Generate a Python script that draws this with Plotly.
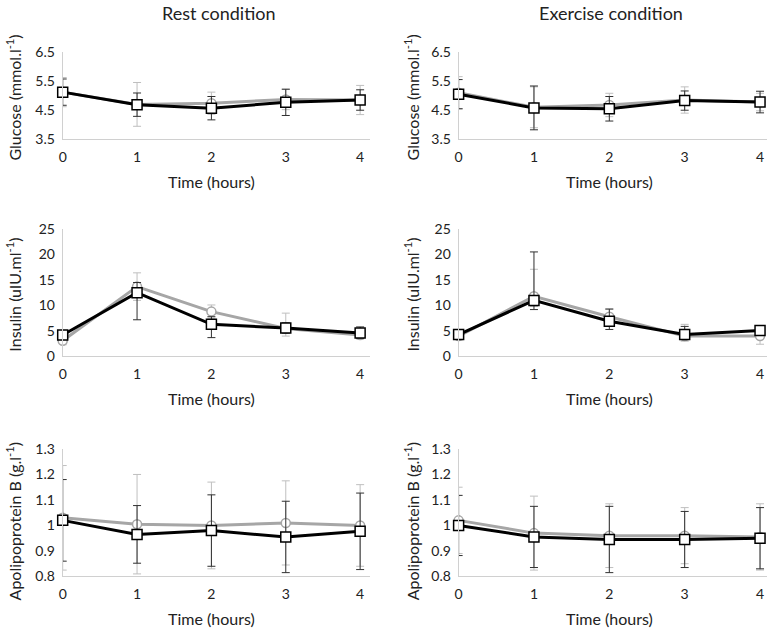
import plotly.graph_objects as go

time_h = [0, 1, 2, 3, 4]

# Rest condition
rest_glu_gray = [5.12, 4.70, 4.74, 4.87, 4.85]
rest_glu_gray_err = [0.50, 0.75, 0.38, 0.35, 0.50]
rest_glu_black = [5.12, 4.69, 4.57, 4.77, 4.85]
rest_glu_black_err = [0.45, 0.40, 0.40, 0.45, 0.35]

rest_ins_gray = [3.1, 13.7, 8.8, 5.5, 4.2]
rest_ins_gray_up = [0.8, 2.7, 1.3, 3.0, 0.8]
rest_ins_gray_dn = [0.8, 2.7, 1.3, 1.5, 0.8]
rest_ins_black = [4.2, 12.5, 6.3, 5.6, 4.6]
rest_ins_black_up = [0.8, 2.0, 1.5, 1.0, 1.2]
rest_ins_black_dn = [0.8, 5.3, 2.6, 1.0, 1.0]

rest_apo_gray = [1.03, 1.005, 1.0, 1.01, 1.0]
rest_apo_gray_err = [0.205, 0.195, 0.17, 0.165, 0.16]
rest_apo_black = [1.02, 0.965, 0.98, 0.955, 0.977]
rest_apo_black_err = [0.16, 0.113, 0.14, 0.14, 0.15]

# Exercise condition
ex_glu_gray = [5.10, 4.60, 4.68, 4.85, 4.78]
ex_glu_gray_err = [0.55, 0.70, 0.40, 0.45, 0.30]
ex_glu_black = [5.05, 4.58, 4.55, 4.83, 4.78]
ex_glu_black_err = [0.50, 0.75, 0.42, 0.33, 0.37]

ex_ins_gray = [4.0, 11.8, 7.8, 4.0, 4.0]
ex_ins_gray_up = [0.8, 5.3, 1.5, 2.3, 0.8]
ex_ins_gray_dn = [0.8, 2.0, 1.5, 1.0, 1.6]
ex_ins_black = [4.3, 11.0, 6.9, 4.3, 5.1]
ex_ins_black_up = [0.8, 9.5, 2.4, 1.6, 0.5]
ex_ins_black_dn = [0.8, 1.8, 1.6, 1.0, 0.5]

ex_apo_gray = [1.02, 0.97, 0.96, 0.96, 0.955]
ex_apo_gray_err = [0.13, 0.145, 0.125, 0.11, 0.13]
ex_apo_black = [1.0, 0.955, 0.945, 0.945, 0.95]
ex_apo_black_err = [0.118, 0.12, 0.13, 0.11, 0.12]

titles = ["Rest condition", "Exercise condition"]
y_titles = ["Glucose (mmol.l<sup>-1</sup>)", "Insulin (uIU.ml<sup>-1</sup>)",
            "Apolipoprotein B (g.l<sup>-1</sup>)"]
y_ranges = [[3.5, 6.5], [0, 25], [0.8, 1.3]]
y_ticks = [[3.5, 4.5, 5.5, 6.5], [0, 5, 10, 15, 20, 25], [0.8, 0.9, 1.0, 1.1, 1.2, 1.3]]
y_ticktext = [["3.5", "4.5", "5.5", "6.5"], ["0", "5", "10", "15", "20", "25"],
              ["0.8", "0.9", "1", "1.1", "1.2", "1.3"]]

W, H = 767, 638
FONT = "Lato, 'Open Sans', sans-serif"
GRAY = "#a6a6a6"
GRAY_ERR = "#bfbfbf"
BLACK = "#000000"

panels = [
    (0, 0, rest_glu_gray, rest_glu_gray_err, rest_glu_gray_err, rest_glu_black, rest_glu_black_err, rest_glu_black_err),
    (1, 0, ex_glu_gray, ex_glu_gray_err, ex_glu_gray_err, ex_glu_black, ex_glu_black_err, ex_glu_black_err),
    (0, 1, rest_ins_gray, rest_ins_gray_up, rest_ins_gray_dn, rest_ins_black, rest_ins_black_up, rest_ins_black_dn),
    (1, 1, ex_ins_gray, ex_ins_gray_up, ex_ins_gray_dn, ex_ins_black, ex_ins_black_up, ex_ins_black_dn),
    (0, 2, rest_apo_gray, rest_apo_gray_err, rest_apo_gray_err, rest_apo_black, rest_apo_black_err, rest_apo_black_err),
    (1, 2, ex_apo_gray, ex_apo_gray_err, ex_apo_gray_err, ex_apo_black, ex_apo_black_err, ex_apo_black_err),
]

col_px = [(59, 358, 368), (457, 760, 767)]
row_px = [(44, 134), (226, 357), (452, 583)]

fig = go.Figure()
layout = dict(
    width=W, height=H, margin=dict(l=0, r=0, t=0, b=0),
    paper_bgcolor="white", plot_bgcolor="white", showlegend=False,
    font=dict(family=FONT, color="#222222"),
)
annotations = []

for i, (c, r, g, gu, gd, b, bu, bd) in enumerate(panels):
    idx = i + 1
    xa = "x" if idx == 1 else f"x{idx}"
    ya = "y" if idx == 1 else f"y{idx}"
    x0, x4, xend = col_px[c]
    top, bot = row_px[r]
    xmax = 4 * (xend - x0) / (x4 - x0)
    layout["xaxis" if idx == 1 else f"xaxis{idx}"] = dict(
        domain=[x0 / W, xend / W], range=[0, xmax], anchor=ya,
        tickvals=time_h, showgrid=False, zeroline=False,
        showline=True, linecolor="#d0d0d0", linewidth=1,
        ticks="outside", ticklen=5, tickcolor="rgba(0,0,0,0)",
        tickfont=dict(size=14, family=FONT, color="#222222"),
    )
    layout["yaxis" if idx == 1 else f"yaxis{idx}"] = dict(
        domain=[1 - bot / H, 1 - top / H], range=y_ranges[r], anchor=xa,
        tickvals=y_ticks[r], ticktext=y_ticktext[r], showgrid=False, zeroline=False,
        showline=True, linecolor="#d0d0d0", linewidth=1,
        ticks="outside", ticklen=4, tickcolor="rgba(0,0,0,0)",
        tickfont=dict(size=14, family=FONT, color="#222222"),
    )
    fig.add_trace(go.Scatter(
        x=time_h, y=g, xaxis=xa, yaxis=ya, mode="lines+markers",
        line=dict(color=GRAY, width=3),
        marker=dict(symbol="circle", size=9, color="white", line=dict(color=GRAY, width=1.5)),
        error_y=dict(type="data", array=gu, arrayminus=gd, symmetric=False,
                     color=GRAY_ERR, thickness=1, width=4),
        cliponaxis=False,
    ))
    fig.add_trace(go.Scatter(
        x=time_h, y=b, xaxis=xa, yaxis=ya, mode="lines+markers",
        line=dict(color=BLACK, width=3),
        marker=dict(symbol="square", size=10, color="white", line=dict(color=BLACK, width=1.5)),
        error_y=dict(type="data", array=bu, arrayminus=bd, symmetric=False,
                     color="#303030", thickness=1, width=4),
        cliponaxis=False,
    ))
    annotations.append(dict(
        text="Time (hours)", xref="paper", yref="paper",
        x=((x0 + x4) / 2) / W, y=1 - (bot + 43) / H, xanchor="center", yanchor="middle",
        showarrow=False, font=dict(size=16, family=FONT, color="#222222"),
    ))
    ytitle_x = 10 if c == 0 else 410
    ycenter = (top + bot) / 2 + (9 if r == 2 else 2)
    annotations.append(dict(
        text=y_titles[r], xref="paper", yref="paper", textangle=-90,
        x=ytitle_x / W, y=1 - ycenter / H, xanchor="center", yanchor="middle",
        showarrow=False, font=dict(size=16, family=FONT, color="#222222"),
    ))

for c, t in enumerate(titles):
    cx = 216 if c == 0 else 610
    annotations.append(dict(
        text=t, xref="paper", yref="paper", x=cx / W, y=1.0, yshift=9,
        xanchor="center", yanchor="top", showarrow=False,
        font=dict(size=18, family=FONT, color="#222222"),
    ))

layout["annotations"] = annotations
fig.update_layout(**layout)
fig.write_html(
    "out.html",
    config={"displayModeBar": False},
    post_script="document.body.style.margin='0';document.body.style.padding='0';"
                "document.body.style.overflow='hidden';",
)
